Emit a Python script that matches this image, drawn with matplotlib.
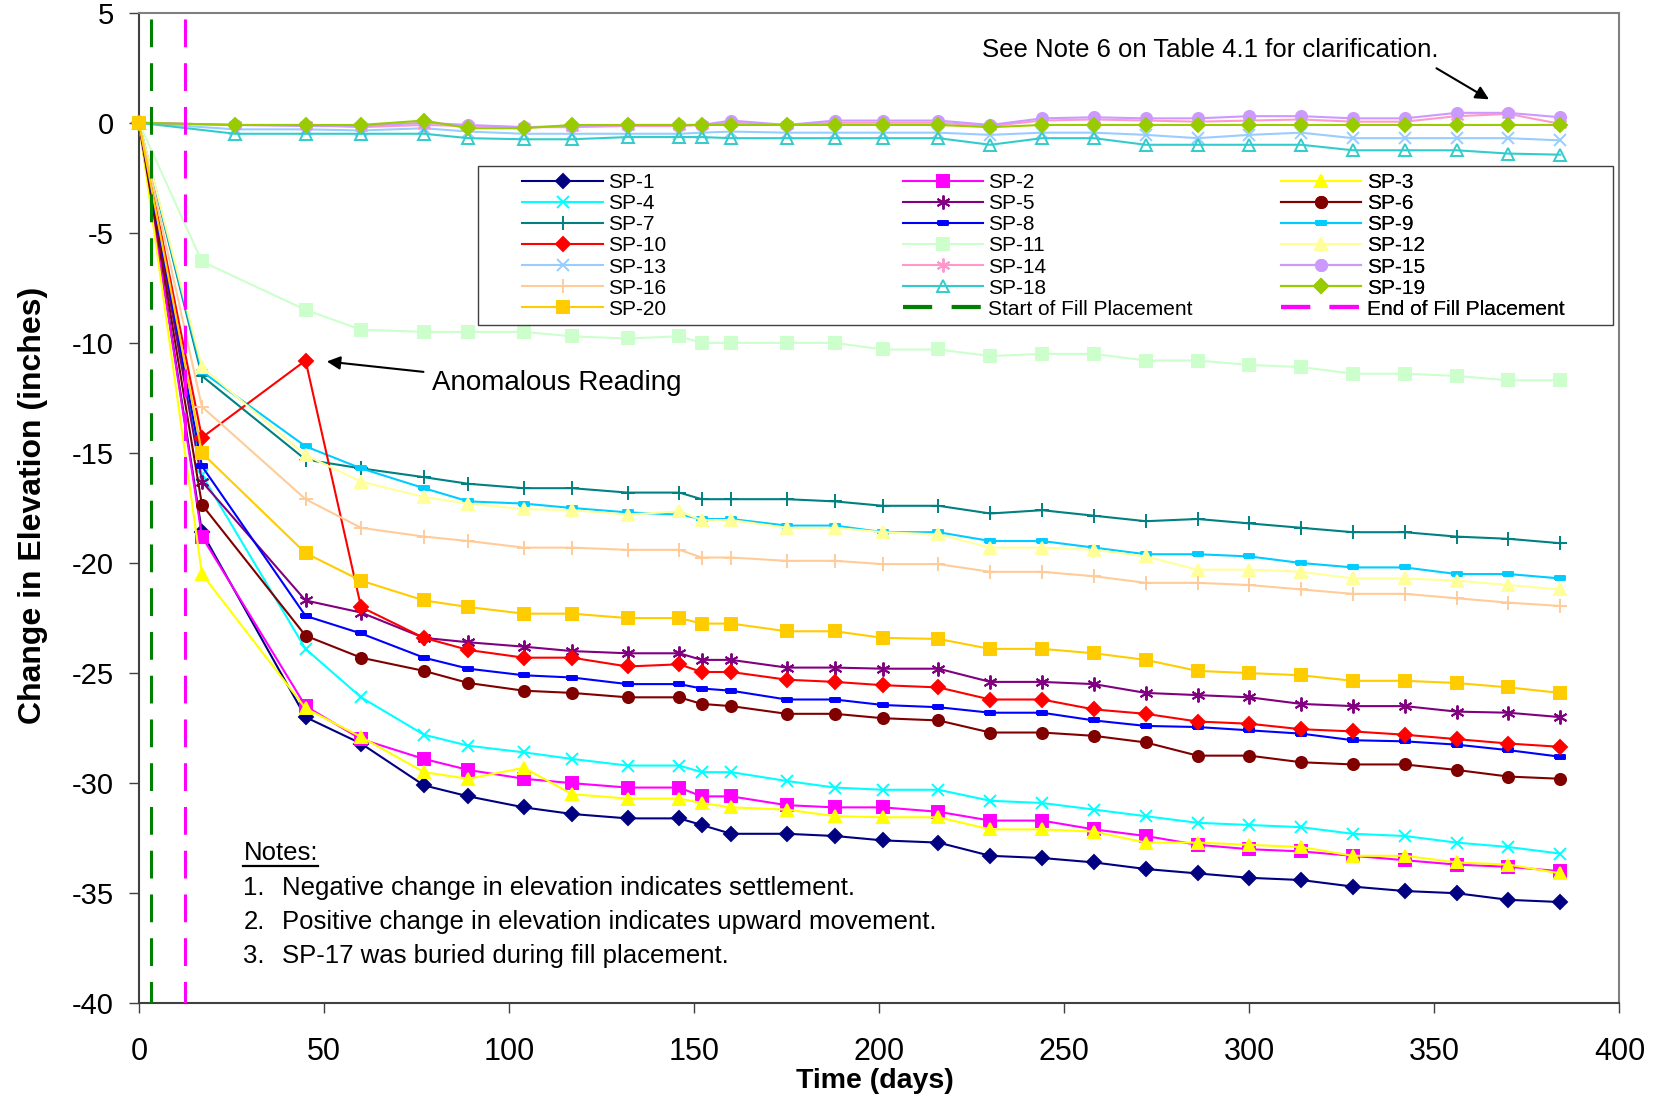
import matplotlib
matplotlib.use("Agg")
import matplotlib.pyplot as plt
from matplotlib.lines import Line2D

plt.rcParams['font.family'] = ['Liberation Sans', 'DejaVu Sans']
plt.rcParams['axes.unicode_minus'] = False
plt.rcParams['lines.scale_dashes'] = False

# survey days: settlement plates read at day 17, the near-surface group at day 26
days_a = [0, 17, 45, 60, 77, 89, 104, 117, 132, 146, 152, 160, 175, 188, 201, 216,
          230, 244, 258, 272, 286, 300, 314, 328, 342, 356, 370, 384]
days_b = [0, 26, 45, 60, 77, 89, 104, 117, 132, 146, 152, 160, 175, 188, 201, 216,
          230, 244, 258, 272, 286, 300, 314, 328, 342, 356, 370, 384]

sp1 = [0, -18.6, -27.0, -28.2, -30.1, -30.6, -31.1, -31.4, -31.6, -31.6, -31.9, -32.3, -32.3,
       -32.4, -32.6, -32.7, -33.3, -33.4, -33.6, -33.9, -34.1, -34.3, -34.4, -34.7, -34.9, -35.0, -35.3, -35.4]
sp2 = [0, -18.8, -26.5, -28.0, -28.9, -29.4, -29.8, -30.0, -30.2, -30.2, -30.6, -30.6, -31.0,
       -31.1, -31.1, -31.3, -31.7, -31.7, -32.1, -32.4, -32.8, -33.0, -33.1, -33.3, -33.5, -33.7, -33.8, -34.0]
sp3 = [0, -20.5, -26.6, -27.9, -29.5, -29.8, -29.3, -30.5, -30.7, -30.7, -30.9, -31.1, -31.2,
       -31.5, -31.55, -31.55, -32.1, -32.1, -32.2, -32.7, -32.7, -32.8, -32.9, -33.3, -33.3, -33.6, -33.7, -34.1]
sp4 = [0, -16.0, -23.9, -26.1, -27.8, -28.3, -28.6, -28.9, -29.2, -29.2, -29.5, -29.5, -29.9,
       -30.2, -30.3, -30.3, -30.8, -30.9, -31.2, -31.5, -31.8, -31.9, -32.0, -32.3, -32.4, -32.7, -32.9, -33.2]
sp5 = [0, -16.3, -21.7, -22.25, -23.4, -23.6, -23.8, -24.0, -24.1, -24.1, -24.4, -24.4, -24.75,
       -24.75, -24.8, -24.8, -25.4, -25.4, -25.5, -25.9, -26.0, -26.1, -26.4, -26.5, -26.5, -26.75, -26.8, -27.0]
sp6 = [0, -17.35, -23.3, -24.3, -24.9, -25.45, -25.8, -25.9, -26.1, -26.1, -26.4, -26.5, -26.85,
       -26.85, -27.05, -27.15, -27.7, -27.7, -27.85, -28.15, -28.75, -28.75, -29.05, -29.15, -29.15, -29.4, -29.7, -29.8]
sp7 = [0, -11.5, -15.3, -15.7, -16.1, -16.4, -16.6, -16.6, -16.8, -16.8, -17.1, -17.1, -17.1,
       -17.2, -17.4, -17.4, -17.75, -17.6, -17.85, -18.1, -18.0, -18.2, -18.4, -18.6, -18.6, -18.8, -18.9, -19.1]
sp8 = [0, -15.6, -22.4, -23.2, -24.3, -24.8, -25.1, -25.2, -25.5, -25.5, -25.7, -25.8, -26.2,
       -26.2, -26.45, -26.55, -26.8, -26.8, -27.15, -27.4, -27.45, -27.6, -27.75, -28.05, -28.1, -28.25, -28.5, -28.8]
sp9 = [0, -11.3, -14.7, -15.7, -16.6, -17.2, -17.3, -17.5, -17.7, -17.8, -18.0, -18.0, -18.3,
       -18.3, -18.6, -18.6, -19.0, -19.0, -19.3, -19.6, -19.6, -19.7, -20.0, -20.2, -20.2, -20.5, -20.5, -20.7]
sp10 = [0, -14.3, -10.8, -22.0, -23.4, -23.95, -24.3, -24.3, -24.7, -24.6, -24.95, -24.95, -25.3,
        -25.4, -25.55, -25.65, -26.2, -26.2, -26.65, -26.85, -27.2, -27.3, -27.55, -27.65, -27.8, -28.0, -28.2, -28.35]
sp11 = [0, -6.3, -8.5, -9.4, -9.5, -9.5, -9.5, -9.7, -9.8, -9.7, -10.0, -10.0, -10.0,
        -10.0, -10.3, -10.3, -10.6, -10.5, -10.5, -10.8, -10.8, -11.0, -11.1, -11.4, -11.4, -11.5, -11.7, -11.7]
sp12 = [0, -11.1, -15.1, -16.3, -17.0, -17.3, -17.55, -17.6, -17.8, -17.65, -18.05, -18.05, -18.4,
        -18.4, -18.6, -18.7, -19.3, -19.3, -19.4, -19.7, -20.3, -20.3, -20.4, -20.7, -20.7, -20.8, -21.0, -21.2]
sp13 = [0, -0.3, -0.3, -0.35, -0.25, -0.4, -0.5, -0.5, -0.5, -0.5, -0.45, -0.4, -0.45,
        -0.45, -0.45, -0.45, -0.55, -0.45, -0.45, -0.55, -0.7, -0.55, -0.45, -0.7, -0.7, -0.7, -0.7, -0.8]
sp14 = [0, -0.1, -0.1, -0.2, -0.1, -0.15, -0.2, -0.2, -0.15, -0.15, -0.1, 0.0, -0.1,
        0.0, 0.0, 0.0, -0.15, 0.1, 0.15, 0.1, 0.05, 0.1, 0.15, 0.05, 0.05, 0.3, 0.4, -0.05]
sp15 = [0, -0.1, -0.15, -0.15, 0.0, -0.1, -0.2, -0.15, -0.1, -0.1, -0.1, 0.1, -0.1,
        0.1, 0.1, 0.1, -0.1, 0.2, 0.25, 0.2, 0.2, 0.3, 0.3, 0.2, 0.2, 0.45, 0.45, 0.25]
sp16 = [0, -12.9, -17.1, -18.4, -18.8, -19.0, -19.3, -19.3, -19.4, -19.4, -19.75, -19.75, -19.9,
        -19.9, -20.05, -20.05, -20.4, -20.4, -20.6, -20.9, -20.9, -21.0, -21.2, -21.4, -21.4, -21.6, -21.8, -21.95]
sp18 = [0, -0.5, -0.5, -0.5, -0.5, -0.7, -0.75, -0.75, -0.65, -0.65, -0.65, -0.7, -0.7,
        -0.7, -0.7, -0.7, -1.0, -0.7, -0.7, -1.0, -1.0, -1.0, -1.0, -1.25, -1.25, -1.25, -1.4, -1.45]
sp19 = [0, -0.1, -0.1, -0.1, 0.1, -0.25, -0.25, -0.1, -0.1, -0.1, -0.1, -0.1, -0.1,
        -0.1, -0.1, -0.1, -0.2, -0.1, -0.1, -0.1, -0.1, -0.1, -0.1, -0.1, -0.1, -0.1, -0.1, -0.1]
sp20 = [0, -15.0, -19.55, -20.8, -21.7, -22.0, -22.3, -22.3, -22.5, -22.5, -22.75, -22.75, -23.1,
        -23.1, -23.4, -23.45, -23.9, -23.9, -24.1, -24.4, -24.9, -25.0, -25.1, -25.35, -25.35, -25.45, -25.65, -25.9]

fill_start = 3.2
fill_end = 12.4

series = [
    ("SP-1", days_a, sp1), ("SP-2", days_a, sp2), ("SP-3", days_a, sp3),
    ("SP-4", days_a, sp4), ("SP-5", days_a, sp5), ("SP-6", days_a, sp6),
    ("SP-7", days_a, sp7), ("SP-8", days_a, sp8), ("SP-9", days_a, sp9),
    ("SP-10", days_a, sp10), ("SP-11", days_a, sp11), ("SP-12", days_a, sp12),
    ("SP-13", days_b, sp13), ("SP-14", days_b, sp14), ("SP-15", days_b, sp15),
    ("SP-16", days_a, sp16), ("SP-18", days_b, sp18), ("SP-19", days_b, sp19),
    ("SP-20", days_a, sp20),
]

# Excel style markers
dash = [(-1, -0.4), (1, -0.4), (1, 0.4), (-1, 0.4), (-1, -0.4)]
star = (6, 2, 0)
styles = {
    "SP-1": ("#000080", "D", 7.5), "SP-2": ("#FF00FF", "s", 8), "SP-3": ("#FFFF00", "^", 9),
    "SP-4": ("#00FFFF", "x", 8), "SP-5": ("#800080", star, 10), "SP-6": ("#800000", "o", 8),
    "SP-7": ("#008080", "+", 10), "SP-8": ("#0000FF", dash, 6.5), "SP-9": ("#00CCFF", dash, 6.5),
    "SP-10": ("#FF0000", "D", 7.5), "SP-11": ("#CCFFCC", "s", 8), "SP-12": ("#FFFF99", "^", 9),
    "SP-13": ("#99CCFF", "x", 8), "SP-14": ("#FF99CC", star, 10), "SP-15": ("#CC99FF", "o", 8),
    "SP-16": ("#FFCC99", "+", 10), "SP-18": ("#33CCCC", "^", 9), "SP-19": ("#99CC00", "D", 7.5),
    "SP-20": ("#FFCC00", "s", 8),
}

fig = plt.figure(figsize=(16.61, 11.0), dpi=100)
ax = fig.add_axes([0.08368, 0.08791, 0.89133, 0.90055])

handles = {}
for name, days, vals in series:
    color, marker, ms = styles[name]
    face = "none" if name == "SP-18" else color
    ln, = ax.plot(days, vals, color=color, lw=1.5, marker=marker, ms=ms,
                  mec=color, mfc=face, mew=1.4, clip_on=False, label=name, zorder=3)
    handles[name] = ln

ax.axvline(fill_start, color="#008000", lw=2.2, ls=(4.5, (20, 11.5)), zorder=5)
ax.axvline(fill_end, color="#FF00FF", lw=2.2, ls=(4.5, (20, 11.5)), zorder=5)
handles["Start of Fill Placement"] = Line2D([], [], color="#008000", lw=3, ls=(0, (21, 14)))
handles["End of Fill Placement"] = Line2D([], [], color="#FF00FF", lw=3, ls=(0, (21, 14)))

ax.set_xlim(0, 400)
ax.set_ylim(-40, 5)
ax.set_xticks(range(0, 401, 50))
ax.set_yticks(range(-40, 6, 5))
ax.tick_params(axis="x", length=7.2, width=1, color="#404040", pad=17, labelsize=22)
ax.tick_params(axis="y", length=7.2, width=1, color="#404040", pad=11, labelsize=21)
for side in ["left", "bottom"]:
    ax.spines[side].set_color("#404040")
    ax.spines[side].set_linewidth(1.5)
for side in ["top", "right"]:
    ax.spines[side].set_color("#808080")
    ax.spines[side].set_linewidth(1.5)

# legend: white box with three columns
box = plt.Rectangle((0.2288, 0.6845), 0.767, 0.1604, transform=ax.transAxes,
                    fc="white", ec="#404040", lw=1, zorder=6)
ax.add_patch(box)
columns = [["SP-1", "SP-4", "SP-7", "SP-10", "SP-13", "SP-16", "SP-20"],
           ["SP-2", "SP-5", "SP-8", "SP-11", "SP-14", "SP-18", "Start of Fill Placement"],
           ["SP-3", "SP-6", "SP-9", "SP-12", "SP-15", "SP-19", "End of Fill Placement"]]
col_x = [0.259, 0.516, 0.7715]
for names, cx in zip(columns, col_x):
    leg = ax.legend([handles[n] for n in names], names, loc="upper left",
                    bbox_to_anchor=(cx, 0.838), frameon=False, fontsize=15,
                    handlelength=3.85, handletextpad=0.25, labelspacing=0.1,
                    borderpad=0, borderaxespad=0, numpoints=1)
    leg.set_zorder(7)
    ax.add_artist(leg)

# annotations
ax.annotate("", xy=(50.0, -10.83), xytext=(77.6, -11.33),
            arrowprops=dict(arrowstyle="-|>", color="black", lw=1.5, mutation_scale=20))
ax.annotate("", xy=(365.4, 1.0), xytext=(349.9, 2.54),
            arrowprops=dict(arrowstyle="-|>", color="black", lw=1.5, mutation_scale=20))
fig.text(0.2599, 0.64545, "Anomalous Reading", fontsize=20, va="baseline")
fig.text(0.59103, 0.94845, "See Note 6 on Table 4.1 for clarification.", fontsize=18.5, va="baseline")

notes = fig.text(0.14654, 0.21818, "Notes:", fontsize=18.5, va="baseline")
note_lines = ["Negative change in elevation indicates settlement.",
              "Positive change in elevation indicates upward movement.",
              "SP-17 was buried during fill placement."]
for i, line in enumerate(note_lines):
    y = 0.18636 - i * 0.03082
    fig.text(0.14654, y, "%d." % (i + 1), fontsize=18.5, va="baseline")
    fig.text(0.1696, y, line, fontsize=18.5, va="baseline")

fig.text(0.5268, 0.01064, "Time (days)", fontsize=20.5, fontweight="bold", ha="center", va="baseline")
fig.text(0.02, 0.5402, "Change in Elevation (inches)", fontsize=23, fontweight="bold",
         rotation=90, ha="center", va="center")

# underline for "Notes:"
fig.canvas.draw()
bb = notes.get_window_extent().transformed(fig.transFigure.inverted())
uy = 0.21818 - 5.7 / 1100
fig.add_artist(Line2D([bb.x0, bb.x1], [uy, uy], color="black", lw=1.6, transform=fig.transFigure))

fig.savefig("out.png", dpi=100)
